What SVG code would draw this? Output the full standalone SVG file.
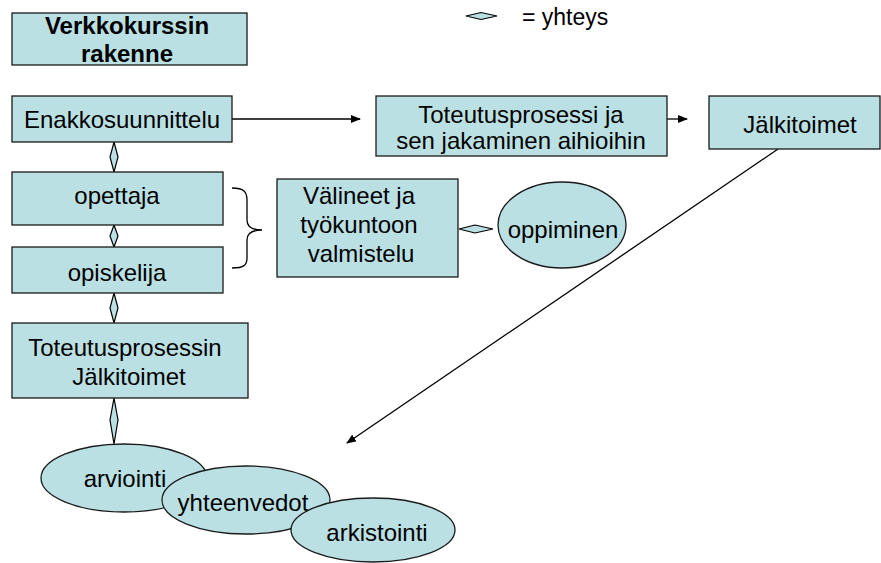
<svg xmlns="http://www.w3.org/2000/svg" width="881" height="563" viewBox="0 0 881 563">
<defs>
<style>
.box{fill:#BBE0E3;stroke:#1a1a1a;stroke-width:1.3}
.t{font-family:"Liberation Sans",Arial,sans-serif;font-size:24px;fill:#000;text-anchor:middle}
.b{font-weight:bold}
.line{stroke:#000;stroke-width:1.3;fill:none}
.dia{fill:#BBE0E3;stroke:#000;stroke-width:1.2}
</style>
<marker id="arr" markerWidth="10" markerHeight="8" refX="9" refY="4" orient="auto" markerUnits="userSpaceOnUse">
<path d="M0,0 L10,4 L0,8 Z" fill="#000"/>
</marker>
</defs>
<rect width="881" height="563" fill="#fff"/>

<g id="connectors">
<line class="line" x1="232" y1="119" x2="360" y2="119" marker-end="url(#arr)"/>
<line class="line" x1="667" y1="119" x2="687" y2="119" marker-end="url(#arr)"/>
<line class="line" x1="778" y1="149" x2="347" y2="443" marker-end="url(#arr)"/>
<path class="dia" d="M114,142 L118,157 L114,172 L110,157 Z"/>
<path class="dia" d="M114,225 L118,236 L114,247 L110,236 Z"/>
<path class="dia" d="M114,293 L118,308 L114,323 L110,308 Z"/>
<path class="dia" d="M114,398 L118,420 L114,444 L110,420 Z"/>
<path class="dia" d="M459,229 L475,225 L493,229 L475,233 Z"/>
<path class="line" d="M232,188 C244,188 247,192 247,200 L247,220 C247,227 252,230 262,230 C252,230 247,233 247,240 L247,258 C247,265 244,268 232,268"/>
</g>

<g id="legend">
<path class="dia" d="M466,16 L481,12.5 L497,16 L481,19.5 Z"/>
<text class="t" x="522" y="25" style="text-anchor:start;font-size:23px">= yhteys</text>
</g>

<g id="title">
<rect class="box" x="12" y="13" width="235" height="52"/>
<text class="t b" x="127" y="34">Verkkokurssin</text>
<text class="t b" x="127" y="62">rakenne</text>
</g>

<g id="enakko">
<rect class="box" x="12" y="96" width="220" height="46"/>
<text class="t" x="122" y="128">Enakkosuunnittelu</text>
</g>

<g id="toteutus">
<rect class="box" x="376" y="96" width="291" height="60"/>
<text class="t" x="521" y="123">Toteutusprosessi ja</text>
<text class="t" x="521" y="149">sen jakaminen aihioihin</text>
</g>

<g id="jalkitoimet">
<rect class="box" x="709" y="96" width="171" height="53"/>
<text class="t" x="800" y="133">Jälkitoimet</text>
</g>

<g id="opettaja">
<rect class="box" x="12" y="172" width="211" height="53"/>
<text class="t" x="117" y="204">opettaja</text>
</g>

<g id="opiskelija">
<rect class="box" x="12" y="247" width="211" height="46"/>
<text class="t" x="117" y="281">opiskelija</text>
</g>

<g id="valineet">
<rect class="box" x="277" y="179" width="181" height="98"/>
<text class="t" x="359" y="204">Välineet ja</text>
<text class="t" x="359" y="233">työkuntoon</text>
<text class="t" x="361" y="262">valmistelu</text>
</g>

<g id="oppiminen">
<ellipse class="box" cx="562" cy="225" rx="64" ry="43"/>
<text class="t" x="563" y="238">oppiminen</text>
</g>

<g id="toteutusprosessin">
<rect class="box" x="12" y="323" width="236" height="75"/>
<text class="t" x="125" y="356">Toteutusprosessin</text>
<text class="t" x="129" y="385">Jälkitoimet</text>
</g>

<g id="arviointi">
<ellipse class="box" cx="124" cy="478" rx="83" ry="34"/>
<text class="t" x="125" y="487">arviointi</text>
</g>

<g id="yhteenvedot">
<ellipse class="box" cx="246" cy="500" rx="84" ry="34"/>
<text class="t" x="243" y="511">yhteenvedot</text>
</g>

<g id="arkistointi">
<ellipse class="box" cx="373" cy="530" rx="82" ry="32"/>
<text class="t" x="377" y="541">arkistointi</text>
</g>
</svg>
